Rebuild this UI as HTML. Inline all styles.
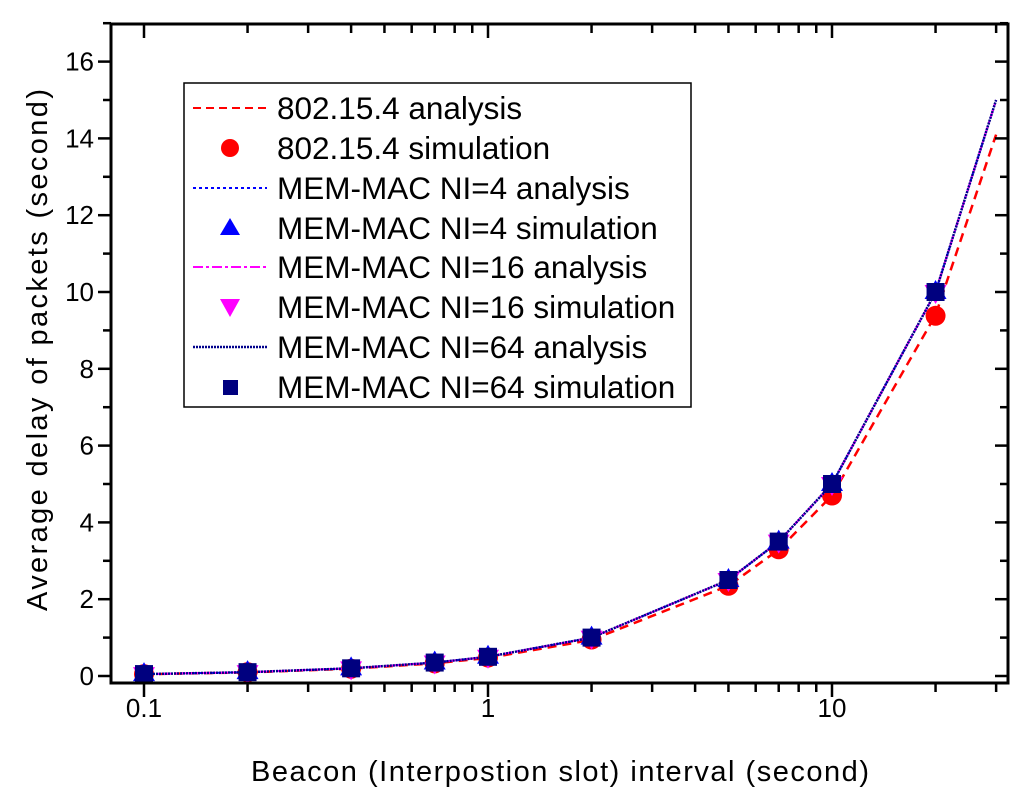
<!DOCTYPE html>
<html><head><meta charset="utf-8"><style>
html,body{margin:0;padding:0;background:#fff}
svg{display:block;font-family:"Liberation Sans",Arial,sans-serif}
</style></head><body>
<svg id="chart" width="1024" height="805" viewBox="0 0 1024 805">
<g id="marks"></g>
<g id="axes"></g>
<g>
<rect x="184" y="83" width="507" height="324" fill="#fff" stroke="#000" stroke-width="1.5"/>
<line x1="193" y1="108" x2="267" y2="108" stroke="#f00" stroke-width="2" stroke-dasharray="8,5"/>
<text x="277" y="119" font-size="31.5">802.15.4 analysis</text>
<circle cx="230" cy="148" r="9" fill="#f00"/>
<text x="277" y="159" font-size="31.5">802.15.4 simulation</text>
<line x1="193" y1="188" x2="267" y2="188" stroke="#00f" stroke-width="2" stroke-dasharray="3,3"/>
<text x="277" y="199" font-size="31.5">MEM-MAC NI=4 analysis</text>
<path d="M230,218 L240,235 L220,235 Z" fill="#00f"/>
<text x="277" y="239" font-size="31.5">MEM-MAC NI=4 simulation</text>
<line x1="193" y1="267" x2="267" y2="267" stroke="#f0f" stroke-width="2" stroke-dasharray="10,3,3,3"/>
<text x="277" y="278" font-size="31.5">MEM-MAC NI=16 analysis</text>
<path d="M220,299 L240,299 L230,317 Z" fill="#f0f"/>
<text x="277" y="318" font-size="31.5">MEM-MAC NI=16 simulation</text>
<line x1="193" y1="347" x2="267" y2="347" stroke="#00008b" stroke-width="2.5" stroke-dasharray="2,1"/>
<text x="277" y="358" font-size="31.5">MEM-MAC NI=64 analysis</text>
<rect x="223" y="380" width="15" height="15" fill="#00007f"/>
<text x="277" y="398" font-size="31.5">MEM-MAC NI=64 simulation</text>
</g>
<text x="560" y="781" font-size="29" text-anchor="middle" textLength="618">Beacon (Interpostion slot) interval (second)</text>
<text transform="translate(47,350) rotate(-90)" font-size="29" text-anchor="middle" textLength="522">Average delay of packets (second)</text>
</svg>
<script>
const xs = [0.1, 0.2, 0.4, 0.7, 1, 2, 5, 7, 10, 20, 30];
const ieeeAnalysis = [0.047, 0.094, 0.19, 0.33, 0.47, 0.94, 2.35, 3.29, 4.7, 9.4, 14.1];
const simXs = [0.1, 0.2, 0.4, 0.7, 1, 2, 5, 7, 10, 20];
const ieeeSim = [0.05, 0.1, 0.19, 0.33, 0.48, 0.95, 2.35, 3.3, 4.7, 9.38];
const ni4Analysis = [0.05, 0.1, 0.2, 0.35, 0.5, 1, 2.5, 3.5, 5, 10, 15];
const ni16Analysis = [0.05, 0.1, 0.2, 0.35, 0.5, 1, 2.5, 3.5, 5, 10, 15];
const ni64Analysis = [0.05, 0.1, 0.2, 0.35, 0.5, 1, 2.5, 3.5, 5, 10, 15];
const ni4Sim = [0.05, 0.1, 0.2, 0.35, 0.5, 1, 2.5, 3.5, 5, 10];
const ni16Sim = [0.05, 0.1, 0.2, 0.35, 0.5, 1, 2.5, 3.5, 5, 10];
const ni64Sim = [0.05, 0.1, 0.2, 0.35, 0.5, 1, 2.5, 3.5, 5, 10];
const yTicks = [0, 2, 4, 6, 8, 10, 12, 14, 16];
const xTickLabels = ["0.1", "1", "10"];

const NS = "http://www.w3.org/2000/svg";
const L=111, R=1008, T=24, B=683;
function xp(v){ return 488 + 344*Math.log10(v); }
function yp(v){ return 676 - 38.4*v; }
function mk(tag, attrs, parent){ const e=document.createElementNS(NS,tag); for(const k in attrs) e.setAttribute(k,attrs[k]); parent.appendChild(e); return e; }
const marks=document.getElementById('marks'), axes=document.getElementById('axes');

function line(vals, color, dash, w, name){
  const d = xs.map((x,i)=>(i?'L':'M')+xp(x).toFixed(1)+','+yp(vals[i]).toFixed(1)).join(' ');
  const p = mk('path',{d:d,fill:'none',stroke:color,'stroke-width':w,'stroke-dasharray':dash},marks);
  
  
}
function pts(vals, shape, color, name){
  simXs.forEach((x,i)=>{
    const cx=xp(x), cy=yp(vals[i]); let e;
    if(shape==='circle') e=mk('circle',{cx:cx,cy:cy,r:10,fill:color},marks);
    else if(shape==='up') e=mk('path',{d:`M${cx},${cy-12} L${cx+11},${cy+7} L${cx-11},${cy+7} Z`,fill:color},marks);
    else if(shape==='down') e=mk('path',{d:`M${cx-11},${cy-7} L${cx+11},${cy-7} L${cx},${cy+12} Z`,fill:color},marks);
    else e=mk('rect',{x:cx-9,y:cy-9,width:18,height:18,fill:color},marks);
    
    
  });
}
line(ieeeAnalysis,'#f00','9,6',2.5,'line-802154-analysis');
pts(ieeeSim,'circle','#f00','point-802154-simulation');
line(ni4Analysis,'#00f','3,3',2,'line-ni4-analysis');
line(ni16Analysis,'#f0f','10,3,3,3',2,'line-ni16-analysis');
line(ni64Analysis,'#00008b','2,1',2.5,'line-ni64-analysis');
pts(ni16Sim,'down','#f0f','point-ni16-simulation');
pts(ni4Sim,'up','#00f','point-ni4-simulation');
pts(ni64Sim,'square','#00007f','point-ni64-simulation');

const fr = mk('rect',{x:L,y:T,width:R-L,height:B-T,fill:'none',stroke:'#000','stroke-width':3},axes);


for(let v=0; v<=17; v++){
  const y=yp(v), major=v%2===0, len=major?13:8;
  mk('line',{x1:L-len,y1:y,x2:L,y2:y,stroke:'#000','stroke-width':2.5},axes);
  mk('line',{x1:R,y1:y,x2:R-len,y2:y,stroke:'#000','stroke-width':2.5},axes);
}
yTicks.forEach(v=>{
  const t=mk('text',{x:L-17,y:yp(v)+9,'font-size':26,'text-anchor':'end'},axes);
  t.textContent=v;
  
  
});
[0.1,1,10].forEach(dec=>{
  for(let m=1;m<10;m++){
    const v=dec*m, x=xp(v); if(x<L||x>R) continue;
    const len=m===1?14:9;
    mk('line',{x1:x,y1:B,x2:x,y2:B+len,stroke:'#000','stroke-width':2.5},axes);
    mk('line',{x1:x,y1:T,x2:x,y2:T+len,stroke:'#000','stroke-width':2.5},axes);
  }
});
xTickLabels.forEach(s=>{
  const t=mk('text',{x:xp(parseFloat(s)),y:B+34,'font-size':26,'text-anchor':'middle'},axes);
  t.textContent=s;
  
  
});
</script>
</body></html>
